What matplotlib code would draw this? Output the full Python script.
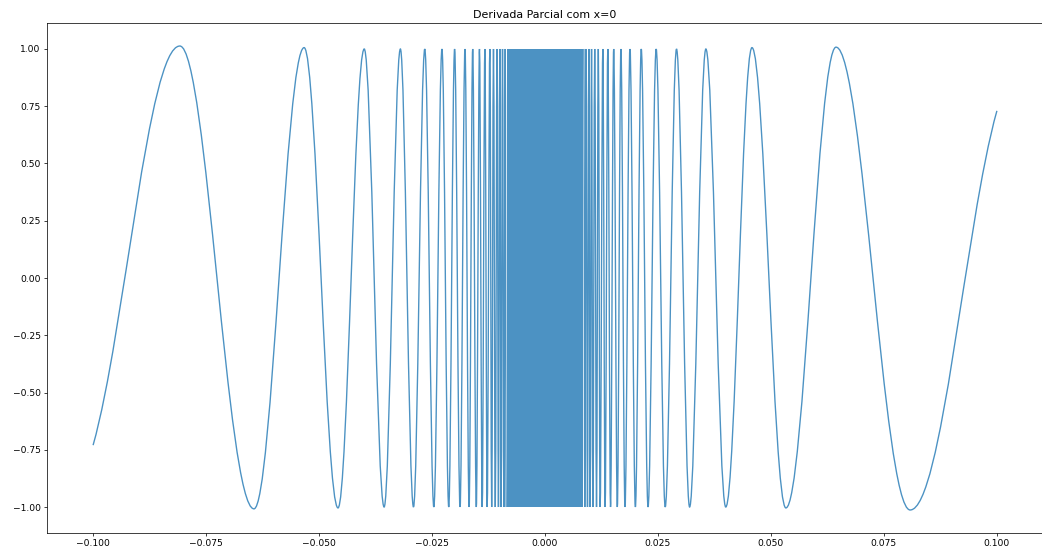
import matplotlib
matplotlib.use("Agg")
import matplotlib.pyplot as plt
from matplotlib.path import Path
from matplotlib.patches import PathPatch

# pontos: extremos da curva (lado negativo e positivo)
neg_x = [-0.0808, -0.0644, -0.0533, -0.0458, -0.0400, -0.0356, -0.0320, -0.0291,
         -0.0266, -0.0246, -0.0228, -0.0213, -0.0200, -0.0188, -0.0177, -0.0168,
         -0.0160, -0.0152, -0.0145, -0.0139, -0.0133, -0.0128, -0.0122, -0.0118,
         -0.0114, -0.0110, -0.0106, -0.0103, -0.0100, -0.0097, -0.0094, -0.0091,
         -0.0088, -0.0086]
neg_y = [1.013, -1.008, 1.006, -1.004, 1.0, -1.0, 1.0, -1.0,
         1.0, -1.0, 1.0, -1.0, 1.0, -1.0, 1.0, -1.0,
         1.0, -1.0, 1.0, -1.0, 1.0, -1.0, 1.0, -1.0,
         1.0, -1.0, 1.0, -1.0, 1.0, -1.0, 1.0, -1.0,
         1.0, -1.0]
pos_x = [0.0086, 0.0088, 0.0091, 0.0094, 0.0097, 0.0100, 0.0103, 0.0106,
         0.0110, 0.0114, 0.0118, 0.0122, 0.0128, 0.0133, 0.0139, 0.0145,
         0.0152, 0.0160, 0.0168, 0.0177, 0.0188, 0.0200, 0.0213, 0.0228,
         0.0246, 0.0266, 0.0291, 0.0320, 0.0356, 0.0400, 0.0458, 0.0533,
         0.0644, 0.0808]
pos_y = [1.0, -1.0, 1.0, -1.0, 1.0, -1.0, 1.0, -1.0,
         1.0, -1.0, 1.0, -1.0, 1.0, -1.0, 1.0, -1.0,
         1.0, -1.0, 1.0, -1.0, 1.0, -1.0, 1.0, -1.0,
         1.0, -1.0, 1.0, -1.0, 1.0, -1.0, 1.006, -1.004,
         1.008, -1.013]
# extremidades e inclinacao nelas
start_pt = (-0.1, -0.73)
end_pt = (0.1, 0.73)
end_slope = 70.0
# faixa densa no meio (oscilacoes nao distinguiveis)
band_x = [-0.0085, 0.0085]
band_lo = [-1.0, -1.0]
band_hi = [1.0, 1.0]

cor = '#1f77b4'


def curva(xs, ys, slopes):
    # liga os pontos com bezier cubica (tangente horizontal nos extremos)
    verts = [(xs[0], ys[0])]
    codes = [Path.MOVETO]
    for i in range(len(xs) - 1):
        dx = xs[i + 1] - xs[i]
        h = 0.364 * dx
        verts.append((xs[i] + h, ys[i] + h * slopes[i]))
        verts.append((xs[i + 1] - h, ys[i + 1] - h * slopes[i + 1]))
        verts.append((xs[i + 1], ys[i + 1]))
        codes += [Path.CURVE4] * 3
    return Path(verts, codes)


fig = plt.figure(figsize=(1042 / 66, 552 / 66), dpi=66)
ax = fig.add_axes([47 / 1042, 19 / 552, 996 / 1042, 510 / 552])

lx = [start_pt[0]] + neg_x
ly = [start_pt[1]] + neg_y
ls = [end_slope] + [0.0] * len(neg_x)
ax.add_patch(PathPatch(curva(lx, ly, ls), facecolor='none', edgecolor=cor,
                       alpha=0.8, lw=1.5))

rx = pos_x + [end_pt[0]]
ry = pos_y + [end_pt[1]]
rs = [0.0] * len(pos_x) + [end_slope]
ax.add_patch(PathPatch(curva(rx, ry, rs), facecolor='none', edgecolor=cor,
                       alpha=0.8, lw=1.5))

ax.fill_between(band_x, band_lo, band_hi, color=cor, alpha=0.8, lw=0)

ax.set_xlim(-0.1102, 0.1102)
ax.set_ylim(-1.1135, 1.1135)
ax.set_xticks([-0.1, -0.075, -0.05, -0.025, 0.0, 0.025, 0.05, 0.075, 0.1])
ax.set_yticks([-1.0, -0.75, -0.5, -0.25, 0.0, 0.25, 0.5, 0.75, 1.0])
ax.set_title("Derivada Parcial com x=0")

fig.savefig("out.png", dpi=66)
